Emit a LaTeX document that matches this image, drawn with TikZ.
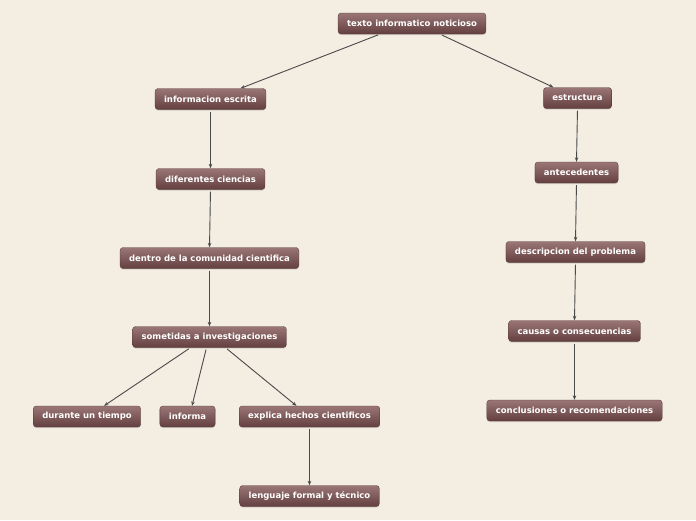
\documentclass[tikz,border=0pt]{standalone}
\usepackage{fontspec}
\setmainfont{DejaVu Sans}
\usetikzlibrary{arrows.meta,shadows}
\definecolor{bg}{HTML}{F3EDE2}
\definecolor{ntop}{HTML}{9A7676}
\definecolor{nbot}{HTML}{643F3F}
\definecolor{edge}{HTML}{4A4A4A}
\tikzset{
  topic/.style={rounded corners=3pt, top color=ntop, bottom color=nbot, draw=nbot!85!black, line width=0.3pt,
    text=white, font=\fontsize{8.5}{9}\selectfont\bfseries, inner xsep=9pt, minimum height=21pt, inner ysep=0pt,
    drop shadow={opacity=0.25, shadow xshift=0pt, shadow yshift=-1.2pt}},
  link/.style={draw=edge, line width=0.9pt, -{Stealth[length=4.5pt,width=3.5pt]}, shorten <=2pt}
}
\begin{document}
\begin{tikzpicture}[x=1pt,y=-1pt]
\fill[bg] (0,0) rectangle (696,520);
\useasboundingbox (0,0) rectangle (696,520);
\node[topic] (t) at (412,23.5) {texto informatico noticioso};
\node[topic] (ie) at (210.5,99) {informacion escrita};
\node[topic] (es) at (577.5,98) {estructura};
\node[topic] (dc) at (210.5,179) {diferentes ciencias};
\node[topic] (an) at (576.5,172.5) {antecedentes};
\node[topic] (dl) at (209.5,258) {dentro de la comunidad cientifica};
\node[topic] (dp) at (575.5,252) {descripcion del problema};
\node[topic] (si) at (209.5,337) {sometidas a investigaciones};
\node[topic] (cc) at (574.5,331) {causas o consecuencias};
\node[topic] (du) at (87,416.5) {durante un tiempo};
\node[topic] (in) at (187.5,416.5) {informa};
\node[topic] (ex) at (309.5,416.5) {explica hechos cientificos};
\node[topic] (co) at (574.5,410.5) {conclusiones o recomendaciones};
\node[topic] (le) at (309.5,496) {lenguaje formal y técnico};
\draw[link] ([xshift=-32pt]t.south) -- ([xshift=30pt]ie.north);
\draw[link] ([xshift=28pt]t.south) -- ([xshift=-24pt]es.north);
\draw[link] (ie.south) -- (dc.north);
\draw[link] (dc.south) -- (dl.north);
\draw[link] (dl.south) -- (si.north);
\draw[link] ([xshift=-19pt]si.south) -- ([xshift=17pt]du.north);
\draw[link] ([xshift=-3pt]si.south) -- ([xshift=4.5pt]in.north);
\draw[link] ([xshift=16pt]si.south) -- ([xshift=-13pt]ex.north);
\draw[link] (ex.south) -- (le.north);
\draw[link] (es.south) -- (an.north);
\draw[link] (an.south) -- (dp.north);
\draw[link] (dp.south) -- (cc.north);
\draw[link] (cc.south) -- (co.north);
\end{tikzpicture}
\end{document}
